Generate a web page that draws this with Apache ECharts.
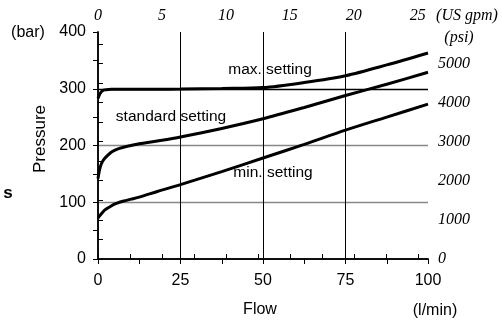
<!DOCTYPE html>
<html>
<head>
<meta charset="utf-8">
<script src="https://cdn.jsdelivr.net/npm/echarts@6/dist/echarts.min.js"></script>
<style>html,body{margin:0;padding:0;background:#fff;}#c{width:502px;height:325px;}</style>
</head>
<body>
<div id="c"></div>
<script>
// Flow (l/min)
var flow = [0, 0.5, 1, 1.5, 2, 3, 4, 5, 6.5, 8, 10, 12.5, 18, 25, 37.5, 50, 62.5, 75, 87.5, 100];
// Pressure (bar)
var maxSetting      = [283, 290, 294.5, 297, 298, 298.5, 299, 299, 299, 299, 299, 299, 299.2, 299.5, 300.5, 302, 311, 323, 342, 363];
var standardSetting = [142, 158, 167.5, 173, 177, 183, 188, 191.5, 195, 197.5, 200, 203, 208, 215, 230, 247, 267, 288, 308, 329];
var minSetting      = [72, 76, 79.5, 83, 86, 90, 93.5, 96.5, 100, 102.5, 105.5, 109, 119, 131, 154, 178, 202, 227, 250, 273];
var seriesNames = ['max. setting', 'standard setting', 'min. setting'];
var GPM_AXIS_MAX = 25.8;     // top axis end as printed (US gpm)
var PSI_AXIS_MAX = 5801;     // right axis end (psi) = 400 bar

function pairs(ys) { return flow.map(function (x, i) { return [x, ys[i]]; }); }

var sans = "'Liberation Sans', Arial, Helvetica, sans-serif";
var serif = "'Liberation Serif', 'Times New Roman', serif";
var chart = echarts.init(document.getElementById('c'));
var lineSeries = [maxSetting, standardSetting, minSetting].map(function (d, i) {
  return {
    name: seriesNames[i], type: 'line', data: pairs(d), xAxisIndex: 0, yAxisIndex: 0,
    showSymbol: false, smooth: 0.3,
    lineStyle: { color: '#000', width: 3 }, z: 5
  };
});
var T = 'transparent';
chart.setOption({
  animation: false,
  backgroundColor: '#fff',
  grid: { left: 98, right: 74, top: 32, bottom: 66 },
  xAxis: [{
    type: 'value', position: 'bottom', min: 0, max: 100, interval: 12.5,
    axisLine: { lineStyle: { color: '#000', width: 1.5 } },
    axisTick: { show: true, length: 5, lineStyle: { color: '#000', width: 1 } },
    axisLabel: { color: '#000', fontFamily: sans, fontSize: 16, margin: 14,
      formatter: function (v) { return (Math.abs(v % 25) < 1e-6) ? String(v) : ''; } },
    splitLine: { show: true, lineStyle: { color: [T, T, '#000', T, '#000', T, '#000', T, T], width: 1 } }
  }, {
    type: 'value', position: 'top', min: 0, max: GPM_AXIS_MAX, interval: 2.5,
    axisLine: { show: true, lineStyle: { color: '#000', width: 1.5 } },
    axisTick: { show: true, length: 5, lineStyle: { color: '#000', width: 1 } },
    axisLabel: { color: '#000', fontFamily: serif, fontStyle: 'italic', fontSize: 16, margin: 8,
      showMaxLabel: false,
      formatter: function (v) { return (Math.abs(v % 5) < 1e-6) ? String(v) : ''; } },
    splitLine: { show: false }
  }],
  yAxis: [{
    type: 'value', position: 'left', min: 0, max: 400, interval: 50,
    axisLine: { show: true, lineStyle: { color: '#000', width: 1.5 } },
    axisTick: { show: true, length: 5, lineStyle: { color: '#000', width: 1 } },
    axisLabel: { color: '#000', fontFamily: sans, fontSize: 16, margin: 12,
      formatter: function (v) { return (Math.abs(v % 100) < 1e-6) ? String(v) : ''; } },
    splitLine: { show: true, lineStyle: { color: [T, T, '#888', T, '#888', T, '#000', T, T], width: 1.3 } }
  }, {
    type: 'value', position: 'right', min: 0, max: PSI_AXIS_MAX, interval: 500,
    axisLine: { show: true, lineStyle: { color: '#000', width: 1.5 } },
    axisTick: { show: true, length: 5, lineStyle: { color: '#000', width: 1 } },
    axisLabel: { color: '#000', fontFamily: serif, fontStyle: 'italic', fontSize: 16, margin: 10,
      showMaxLabel: false,
      formatter: function (v) { return (Math.abs(v % 1000) < 1e-6) ? String(v) : ''; } },
    splitLine: { show: false }
  }],
  series: lineSeries,
  graphic: [
    { type: 'text', x: 28, y: 33, style: { text: '(bar)', font: '16px ' + sans, fill: '#000', align: 'center', verticalAlign: 'middle' } },
    { type: 'text', x: 40, y: 139, rotation: Math.PI / 2, style: { text: 'Pressure', font: '17px ' + sans, fill: '#000', align: 'center', verticalAlign: 'middle' } },
    { type: 'text', x: 8, y: 193, style: { text: 's', font: 'bold 17px ' + sans, fill: '#000', align: 'center', verticalAlign: 'middle' } },
    { type: 'text', x: 260, y: 310, style: { text: 'Flow', font: '16px ' + sans, fill: '#000', align: 'center', verticalAlign: 'middle' } },
    { type: 'text', x: 435, y: 311, style: { text: '(l/min)', font: '16px ' + sans, fill: '#000', align: 'center', verticalAlign: 'middle' } },
    { type: 'text', x: 467, y: 16, style: { text: '(US gpm)', font: 'italic 16px ' + serif, fill: '#000', align: 'center', verticalAlign: 'middle' } },
    { type: 'text', x: 459, y: 38, style: { text: '(psi)', font: 'italic 16px ' + serif, fill: '#000', align: 'center', verticalAlign: 'middle' } },
    { type: 'text', x: 270, y: 70, z: 10, style: { text: seriesNames[0], font: '15.5px ' + sans, fill: '#000', align: 'center', verticalAlign: 'middle' } },
    { type: 'text', x: 171, y: 117, z: 10, style: { text: seriesNames[1], font: '15.5px ' + sans, fill: '#000', align: 'center', verticalAlign: 'middle' } },
    { type: 'text', x: 273, y: 173, z: 10, style: { text: seriesNames[2], font: '15.5px ' + sans, fill: '#000', align: 'center', verticalAlign: 'middle' } }
  ]
});
</script>
</body>
</html>
